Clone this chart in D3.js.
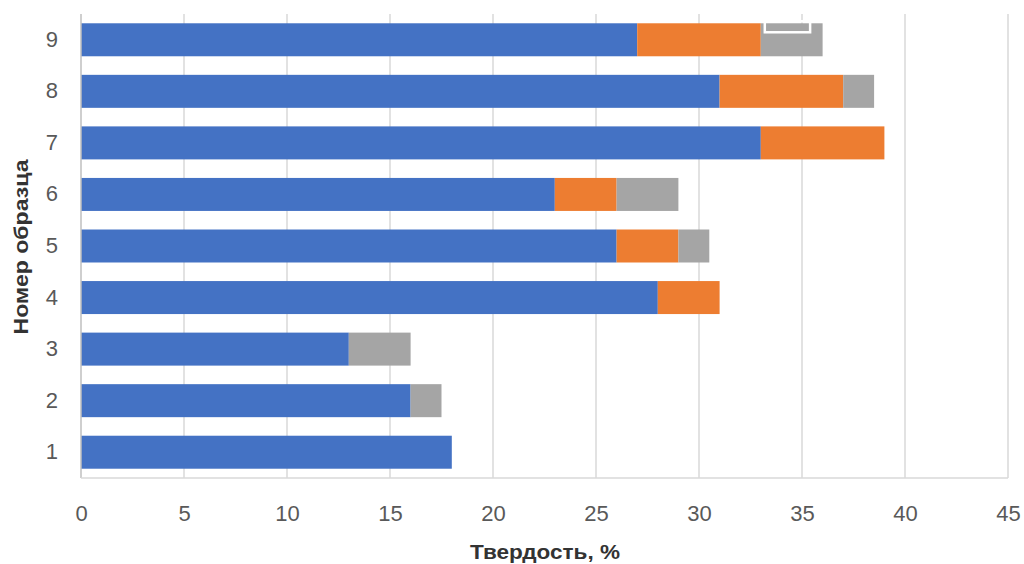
<!DOCTYPE html>
<html>
<head>
<meta charset="utf-8">
<script src="https://cdn.jsdelivr.net/npm/d3@7"></script>
<style>
  html, body { margin: 0; padding: 0; background: #fff; }
  svg { display: block; font-family: "Liberation Sans", Arial, sans-serif; }
</style>
</head>
<body>
<svg id="chart" width="1024" height="564"></svg>
<script>
// Samples (bottom to top) and stacked hardness components
const samples = ["1", "2", "3", "4", "5", "6", "7", "8", "9"];
const base    = [18, 16, 13, 28, 26, 23, 33, 31, 27];
const second  = [0, 0, 0, 3, 3, 3, 6, 6, 6];
const third   = [0, 1.5, 3, 0, 1.5, 3, 0, 1.5, 3];
const seriesNames = ["base", "second", "third"];
const seriesColors = ["#4472C4", "#ED7D31", "#A5A5A5"];
const xTicks = [0, 5, 10, 15, 20, 25, 30, 35, 40, 45];

const rows = samples.map((s, i) => ({ sample: s, base: base[i], second: second[i], third: third[i] }));
const stacked = d3.stack().keys(seriesNames)(rows);

const svg = d3.select("#chart");
const margin = { left: 81, right: 16, top: 14, bottom: 86 };
const W = 1024, H = 564;

const x = d3.scaleLinear().domain([0, 45]).range([margin.left, W - margin.right]);
const y = d3.scaleBand().domain(samples.slice().reverse())
  .range([margin.top, H - margin.bottom]).paddingInner(0.36).paddingOuter(0.18);

// vertical gridlines
svg.append("g").selectAll("line").data(xTicks.slice(1)).join("line")
  .attr("x1", d => x(d)).attr("x2", d => x(d))
  .attr("y1", margin.top).attr("y2", H - margin.bottom)
  .attr("stroke", "#D9D9D9").attr("stroke-width", 1.5);

// stacked bars
svg.append("g").selectAll("g").data(stacked).join("g")
  .attr("fill", (d, i) => seriesColors[i])
  .selectAll("rect").data(d => d.filter(p => p[1] > p[0])).join("rect")
  .attr("x", d => x(d[0]))
  .attr("width", d => x(d[1]) - x(d[0]))
  .attr("y", d => y(d.data.sample))
  .attr("height", y.bandwidth());

// small white frame resting on the top bar's grey segment
const topRow = rows.find(r => r.sample === "9");
svg.append("rect")
  .attr("x", x(topRow.base + topRow.second) + 4)
  .attr("y", y("9") - 2)
  .attr("width", x(topRow.base + topRow.second + 2.2) - x(topRow.base + topRow.second))
  .attr("height", 11)
  .attr("fill", "none").attr("stroke", "#fff").attr("stroke-width", 2.5);

// axis lines
svg.append("line")
  .attr("x1", x(0)).attr("x2", x(0))
  .attr("y1", margin.top).attr("y2", H - margin.bottom)
  .attr("stroke", "#BFBFBF").attr("stroke-width", 1.5);
svg.append("line")
  .attr("x1", x(0)).attr("x2", x(45))
  .attr("y1", H - margin.bottom).attr("y2", H - margin.bottom)
  .attr("stroke", "#D9D9D9").attr("stroke-width", 1.5);

// x axis tick labels
const xAxis = d3.axisBottom(x).tickValues(xTicks).tickSize(0).tickPadding(27);
const gx = svg.append("g").attr("transform", `translate(0,${H - margin.bottom})`).call(xAxis);
gx.select(".domain").remove();
gx.selectAll("text").attr("font-size", 22).attr("fill", "#595959")
  .style("font-family", "'Liberation Sans', Arial, sans-serif");

// y axis tick labels
const yAxis = d3.axisLeft(y).tickSize(0).tickPadding(23);
const gy = svg.append("g").attr("transform", `translate(${margin.left},0)`).call(yAxis);
gy.select(".domain").remove();
gy.selectAll("text").attr("font-size", 22).attr("fill", "#595959")
  .style("font-family", "'Liberation Sans', Arial, sans-serif");

// axis titles
svg.append("text")
  .attr("x", 545).attr("y", 559)
  .attr("text-anchor", "middle").attr("font-size", 21).attr("font-weight", "bold")
  .attr("textLength", 150).attr("lengthAdjust", "spacingAndGlyphs")
  .attr("fill", "#333333").text("Твердость, %");

svg.append("text")
  .attr("transform", `translate(28, 247) rotate(-90)`)
  .attr("text-anchor", "middle").attr("font-size", 21).attr("font-weight", "bold")
  .attr("textLength", 175).attr("lengthAdjust", "spacingAndGlyphs")
  .attr("fill", "#333333").text("Номер образца");
</script>
</body>
</html>
